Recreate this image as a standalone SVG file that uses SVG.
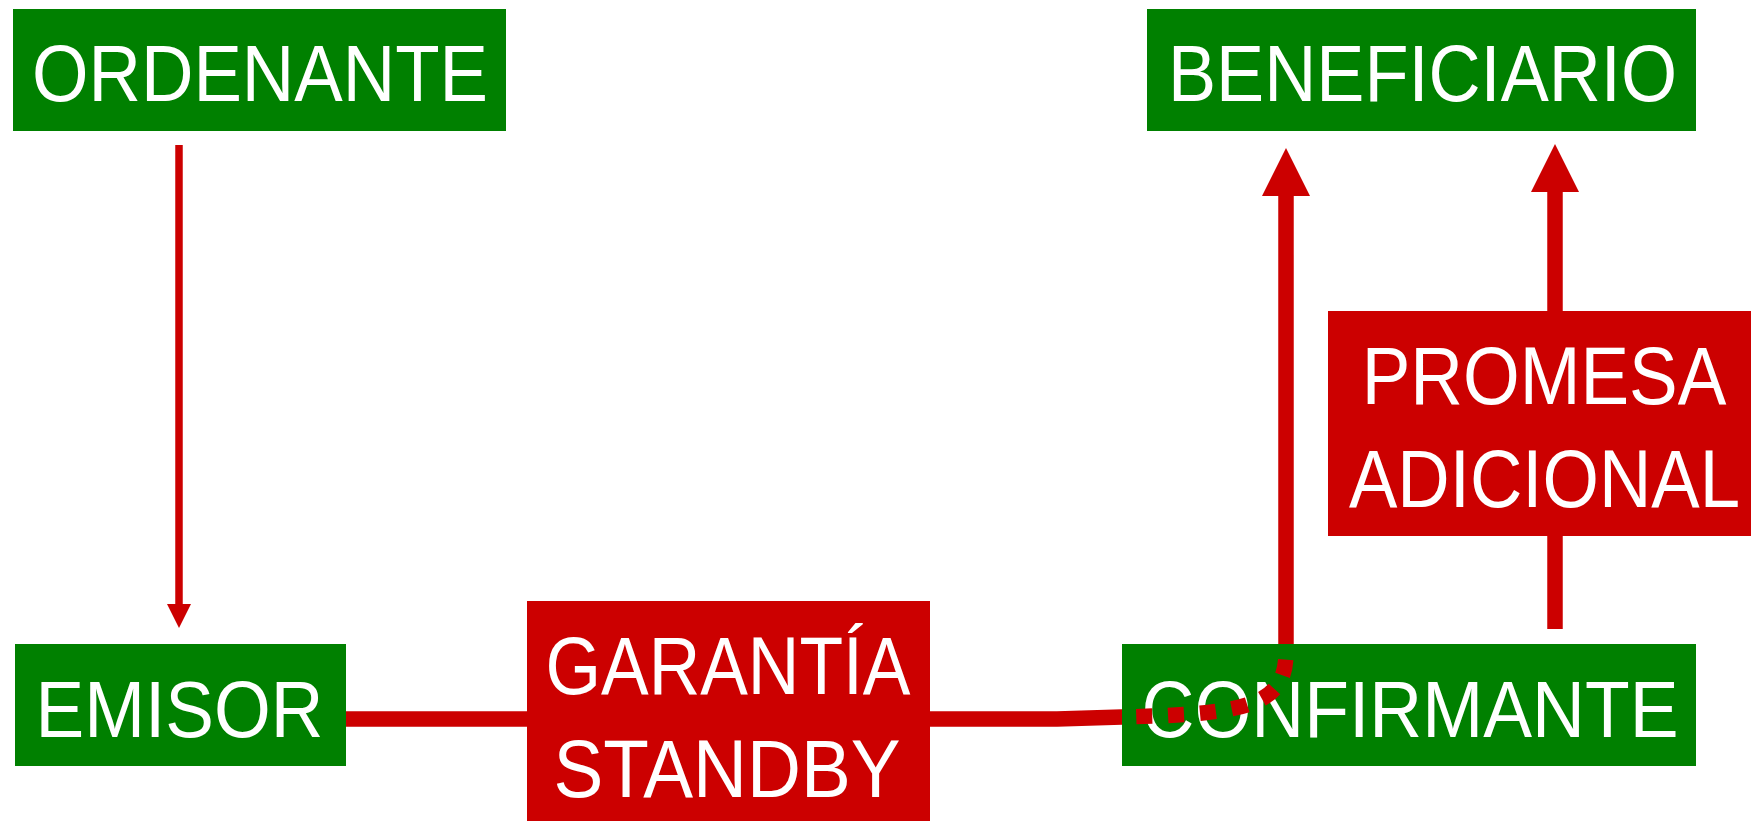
<svg xmlns="http://www.w3.org/2000/svg" width="1751" height="821" viewBox="0 0 1751 821">
<style>
  .node rect { fill: #008000; }
  .lbl rect { fill: #cc0000; }
  text { font-family: "Liberation Sans", Arial, sans-serif; fill: #ffffff; text-anchor: middle; }
  .t80 { font-size: 80px; }
  .t81 { font-size: 81px; }
  .edge { fill: none; stroke: #cc0000; stroke-linecap: butt; stroke-linejoin: round; }
  .thick { stroke-width: 15.5; }
  .thin { stroke-width: 7.5; }
  .dash { stroke-dasharray: 16 16; stroke-dashoffset: 18; }
</style>
<defs>
  <marker id="arrowBig" markerUnits="userSpaceOnUse" viewBox="0 0 48 48" markerWidth="48" markerHeight="48" refX="0" refY="24" orient="auto">
    <path d="M0 0 L48 24 L0 48 Z" fill="#cc0000"/>
  </marker>
  <marker id="arrowSmall" markerUnits="userSpaceOnUse" viewBox="0 0 24 24" markerWidth="24" markerHeight="24" refX="0" refY="12" orient="auto">
    <path d="M0 0 L24 12 L0 24 Z" fill="#cc0000"/>
  </marker>
</defs>
<rect width="1751" height="821" fill="#ffffff"/>

<g id="connectors">
  <path id="ordenante-emisor" class="edge thin" d="M179 145 L179 604" marker-end="url(#arrowSmall)"/>
  <path id="emisor-beneficiario" class="edge thick" d="M346 719 L1057 719 L1122 717 C1250 714 1287 705 1286 650 L1286 196" marker-end="url(#arrowBig)"/>
  <path id="confirmante-beneficiario" class="edge thick" d="M1555 629 L1555 192" marker-end="url(#arrowBig)"/>
</g>

<g id="ordenante" class="node">
  <rect x="13" y="9" width="493" height="122"/>
  <text class="t80" x="260" y="101" textLength="456" lengthAdjust="spacingAndGlyphs">ORDENANTE</text>
</g>
<g id="beneficiario" class="node">
  <rect x="1147" y="9" width="549" height="122"/>
  <text class="t80" x="1422.5" y="101" textLength="509" lengthAdjust="spacingAndGlyphs">BENEFICIARIO</text>
</g>
<g id="emisor" class="node">
  <rect x="15" y="644" width="331" height="122"/>
  <text class="t80" x="179.5" y="737" textLength="288" lengthAdjust="spacingAndGlyphs">EMISOR</text>
</g>
<g id="garantia-standby" class="lbl">
  <rect x="527" y="601" width="403" height="220"/>
  <text class="t81" x="728" y="694" textLength="365" lengthAdjust="spacingAndGlyphs">GARANTÍA</text>
  <text class="t81" x="727" y="797" textLength="347" lengthAdjust="spacingAndGlyphs">STANDBY</text>
</g>
<g id="confirmante" class="node">
  <rect x="1122" y="644" width="574" height="122"/>
  <text class="t80" x="1410" y="737" textLength="537" lengthAdjust="spacingAndGlyphs">CONFIRMANTE</text>
</g>
<g id="promesa-adicional" class="lbl">
  <rect x="1328" y="311" width="423" height="225"/>
  <text class="t81" transform="translate(1544 404) scale(0.9 1)" x="0" y="0">PROMESA</text>
  <text class="t81" transform="translate(1544.5 507) scale(0.896 1)" x="0" y="0">ADICIONAL</text>
</g>

<g id="connector-overlay">
  <path class="edge thick dash" d="M1122 717 C1250 714 1287 705 1286 650 L1286 644"/>
</g>
</svg>
